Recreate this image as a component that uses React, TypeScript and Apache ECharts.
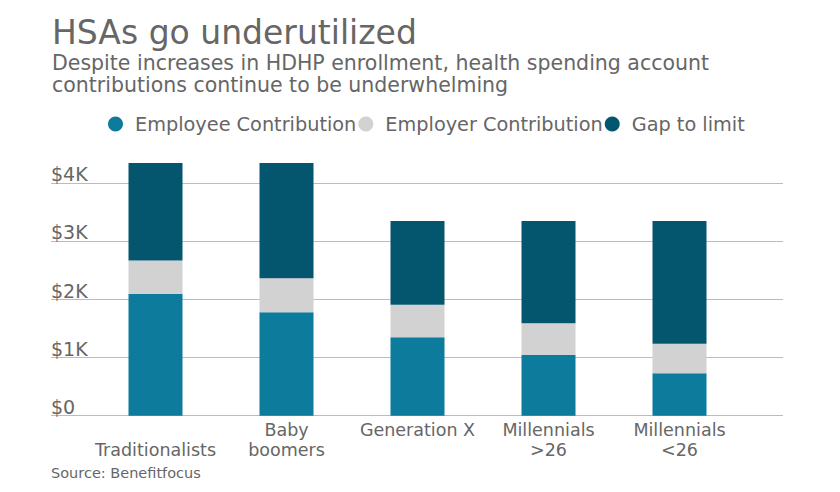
import { useEffect, useRef } from 'react'
import * as echarts from 'echarts'

// 分类和数据（美元）
const categories = ['Traditionalists', 'Baby\nboomers', 'Generation X', 'Millennials\n>26', 'Millennials\n<26']
const employeeContribution = [2100, 1780, 1350, 1050, 730]
const employerContribution = [570, 585, 560, 540, 510]
const gapToLimit = [1680, 1985, 1440, 1760, 2110]
const yTicks = [0, 1000, 2000, 3000, 4000]

const FONT = 'DejaVu Sans'
const TEXT = '#666666'
const COLORS = ['#0d7b9b', '#d3d2d3', '#04566f']

export default function App() {
  const containerRef = useRef<HTMLDivElement>(null)

  useEffect(() => {
    if (!containerRef.current) return
    const chart = echarts.init(containerRef.current, undefined, { renderer: 'svg' })

    const option: echarts.EChartsOption = {
      animation: false,
      backgroundColor: '#ffffff',
      color: COLORS,
      textStyle: { fontFamily: FONT },

      // 标题、副标题、来源
      graphic: [
        {
          type: 'text', left: 52, top: 16,
          style: { text: 'HSAs go underutilized', fontFamily: FONT, fontSize: 33, lineHeight: 30, fill: TEXT },
        },
        {
          type: 'text', left: 52, top: 51.4,
          style: {
            text: 'Despite increases in HDHP enrollment, health spending account\ncontributions continue to be underwhelming',
            fontFamily: FONT, fontSize: 20.5, lineHeight: 22.7, fill: TEXT,
          },
        },
        {
          type: 'text', left: 51, top: 465,
          style: { text: 'Source: Benefitfocus', fontFamily: FONT, fontSize: 14.5, lineHeight: 16, fill: TEXT },
        },
      ],

      legend: {
        left: 108,
        top: 114,
        padding: 0,
        itemGap: 2,
        itemWidth: 15,
        itemHeight: 15,
        icon: 'circle',
        textStyle: { color: TEXT, fontSize: 19.3, fontFamily: FONT, lineHeight: 20, padding: [0, 0, 0, 7] },
      },

      // grid 0：网格线和 Y 轴标签；grid 1：柱子
      grid: [
        { left: 51, right: 57, top: 183.3, bottom: 76.3 },
        { left: 90, right: 95, top: 154.25, bottom: 76.3 },
      ],

      xAxis: [
        { type: 'value', gridIndex: 0, show: false, min: 0, max: 1 },
        {
          type: 'category',
          gridIndex: 1,
          data: categories,
          axisLine: { show: false },
          axisTick: { show: false },
          axisLabel: {
            color: TEXT,
            fontSize: 17.5,
            lineHeight: 20,
            margin: 4.2,
            interval: 0,
            formatter: (v: string) => (v === 'Traditionalists' ? '\n' + v : v),
          },
        },
      ],

      yAxis: [
        {
          type: 'value',
          gridIndex: 0,
          min: yTicks[0],
          max: yTicks[yTicks.length - 1],
          interval: 1000,
          axisLine: { show: false },
          axisTick: { show: false },
          splitLine: { lineStyle: { color: '#bcbcbc', width: 1 } },
          axisLabel: {
            inside: true,
            margin: 0,
            color: TEXT,
            fontSize: 19,
            lineHeight: 18,
            verticalAlign: 'bottom',
            formatter: (v: number) => (v === 0 ? '$0' : '$' + v / 1000 + 'K'),
          },
        },
        { type: 'value', gridIndex: 1, min: 0, max: 4500, show: false },
      ],

      series: [
        {
          name: 'Employee Contribution',
          type: 'bar',
          stack: 'total',
          barWidth: 54,
          xAxisIndex: 1,
          yAxisIndex: 1,
          data: employeeContribution,
        },
        {
          name: 'Employer Contribution',
          type: 'bar',
          stack: 'total',
          barWidth: 54,
          xAxisIndex: 1,
          yAxisIndex: 1,
          data: employerContribution,
        },
        {
          name: 'Gap to limit',
          type: 'bar',
          stack: 'total',
          barWidth: 54,
          xAxisIndex: 1,
          yAxisIndex: 1,
          data: gapToLimit,
        },
      ],
    }

    chart.setOption(option)
    return () => chart.dispose()
  }, [])

  return (
    <div
      ref={containerRef}
      style={{ position: 'fixed', left: 0, top: 0, width: 840, height: 492 }}
    />
  )
}
